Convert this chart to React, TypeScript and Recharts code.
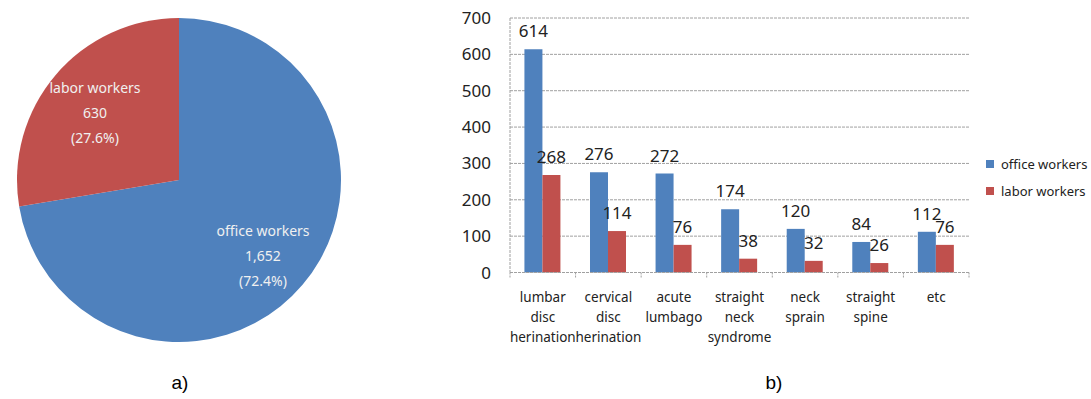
import { PieChart, Pie, Cell, BarChart, Bar, XAxis, YAxis, CartesianGrid, Legend, LabelList } from "recharts";

const pieNames = ["office workers", "labor workers"];
const pieValues = [1652, 630];
const pieColors = ["#4F81BD", "#C0504D"];

const categories = [
  "lumbar disc herination",
  "cervical disc herination",
  "acute lumbago",
  "straight neck syndrome",
  "neck sprain",
  "straight spine",
  "etc",
];
const seriesNames = ["office workers", "labor workers"];
const officeWorkers = [614, 276, 272, 174, 120, 84, 112];
const laborWorkers = [268, 114, 76, 38, 32, 26, 76];
const yTicks = [0, 100, 200, 300, 400, 500, 600, 700];

const pieData = pieNames.map((name, i) => ({ name, value: pieValues[i] }));
const barData = categories.map((name, i) => ({
  name,
  office: officeWorkers[i],
  labor: laborWorkers[i],
}));

const FONT = "'Noto Sans', sans-serif";
const GRID = "#a0a0a0";

// plot width / categories, used to put tick marks on category borders
const BAND = (651 - 70 - 122) / categories.length;

const PieLabel = ({ cx, cy, midAngle, outerRadius, name, value, percent }: any) => {
  const RADIAN = Math.PI / 180;
  const r = outerRadius * 0.68;
  const x = cx + r * Math.cos(-midAngle * RADIAN);
  const y = cy + r * Math.sin(-midAngle * RADIAN) + 4;
  const lines = [name, value.toLocaleString("en-US"), `(${(percent * 100).toFixed(1)}%)`];
  return (
    <text x={x} y={y} fill="#f0f0f0" textAnchor="middle" fontFamily={FONT} fontSize={14}>
      {lines.map((l, i) => (
        <tspan key={i} x={x} y={y + (i - 1) * 25} dominantBaseline="central">
          {l}
        </tspan>
      ))}
    </text>
  );
};

const CategoryTick = ({ x, y, payload, index }: any) => {
  const words = String(payload.value).split(" ");
  return (
    <g>
      <line x1={x - BAND / 2} x2={x - BAND / 2} y1={y} y2={y + 5} stroke={GRID} strokeDasharray="2 1" />
      {index === categories.length - 1 && (
        <line x1={x + BAND / 2} x2={x + BAND / 2} y1={y} y2={y + 5} stroke={GRID} strokeDasharray="2 1" />
      )}
      <text x={x} y={y} textAnchor="middle" fontFamily={FONT} fontSize={13.5} fill="#222">
        {words.map((w, i) => (
          <tspan key={i} x={x} y={y + 24 + i * 20} dominantBaseline="central">
            {w}
          </tspan>
        ))}
      </text>
    </g>
  );
};

const LegendContent = ({ payload }: any) => {
  const items = [...(payload || [])].sort(
    (a: any, b: any) => seriesNames.indexOf(a.value) - seriesNames.indexOf(b.value)
  );
  return (
    <div style={{ fontFamily: FONT, fontSize: 13, color: "#222" }}>
      {items.map((p: any) => (
        <div key={p.value} style={{ display: "flex", alignItems: "center", height: 27 }}>
          <span style={{ width: 8, height: 8, background: p.color, marginRight: 7, display: "inline-block" }} />
          {p.value}
        </div>
      ))}
    </div>
  );
};

export default function App() {
  return (
    <div style={{ position: "absolute", left: 0, top: 0, width: 1091, height: 399, background: "#fff" }}>
      <div style={{ position: "absolute", left: 0, top: 0 }}>
        <PieChart width={360} height={360} margin={{ top: 0, right: 0, bottom: 0, left: 0 }}>
          <Pie
            data={pieData}
            dataKey="value"
            nameKey="name"
            cx={179}
            cy={180}
            outerRadius={162}
            startAngle={90}
            endAngle={-270}
            stroke="none"
            label={PieLabel}
            labelLine={false}
            isAnimationActive={false}
          >
            {pieData.map((d, i) => (
              <Cell key={d.name} fill={pieColors[i]} />
            ))}
          </Pie>
        </PieChart>
      </div>

      <div style={{ position: "absolute", left: 440, top: 0 }}>
        <BarChart
          width={651}
          height={399}
          data={barData}
          margin={{ top: 18, right: 122, left: 0, bottom: 36.5 }}
          barGap={0}
          barCategoryGap="22%"
        >
          <CartesianGrid vertical={false} stroke={GRID} strokeDasharray="3 1" />
          <XAxis
            dataKey="name"
            height={90}
            interval={0}
            tickLine={false}
            tickSize={0}
            tickMargin={0}
            axisLine={{ stroke: GRID, strokeDasharray: "3 1" }}
            tick={<CategoryTick />}
          />
          <YAxis
            width={70}
            domain={[0, 700]}
            ticks={yTicks}
            tickLine={false}
            tickSize={0}
            tickMargin={19}
            axisLine={{ stroke: GRID, strokeDasharray: "3 1" }}
            tick={{ fontFamily: FONT, fontSize: 17, fill: "#222" }}
          />
          <Legend
            layout="vertical"
            align="center"
            verticalAlign="middle"
            wrapperStyle={{ left: 546, top: 150, width: 110 }}
            content={<LegendContent />}
          />
          <Bar dataKey="office" name={seriesNames[0]} fill="#4F81BD" isAnimationActive={false}>
            <LabelList dataKey="office" position="top" offset={12} fontFamily={FONT} fontSize={17} fill="#222" />
          </Bar>
          <Bar dataKey="labor" name={seriesNames[1]} fill="#C0504D" isAnimationActive={false}>
            <LabelList dataKey="labor" position="top" offset={12} fontFamily={FONT} fontSize={17} fill="#222" />
          </Bar>
        </BarChart>
      </div>

      <div style={{ position: "absolute", left: 0, width: 360, top: 372, textAlign: "center", fontFamily: "'Liberation Sans', Arial, sans-serif", fontSize: 19 }}>
        a)
      </div>
      <div style={{ position: "absolute", left: 674, width: 200, top: 372, textAlign: "center", fontFamily: "'Liberation Sans', Arial, sans-serif", fontSize: 19 }}>
        b)
      </div>
    </div>
  );
}
